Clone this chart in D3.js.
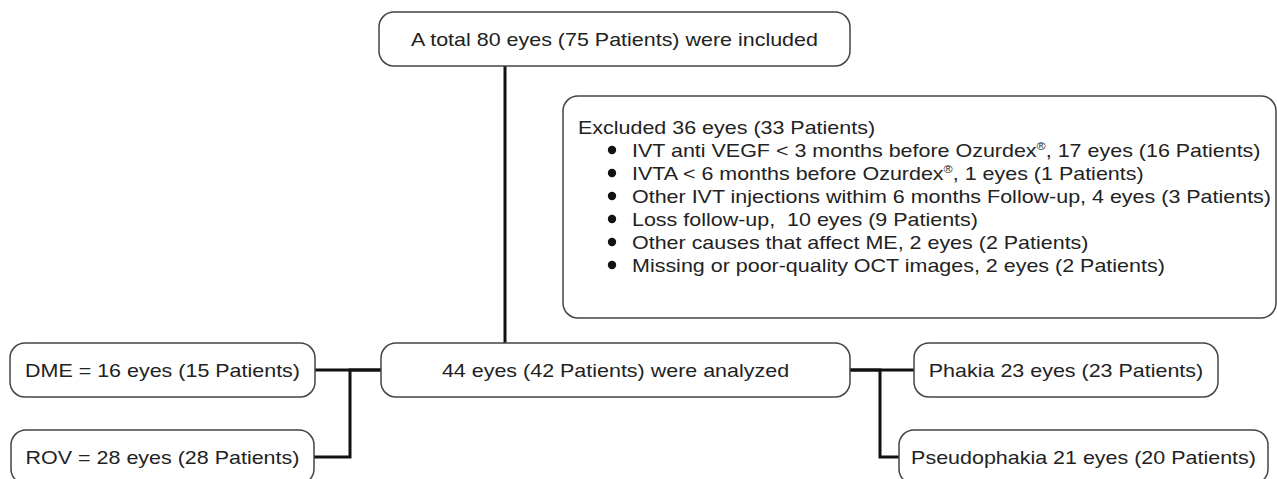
<!DOCTYPE html>
<html>
<head>
<meta charset="utf-8">
<script src="https://cdn.jsdelivr.net/npm/d3@7"></script>
<style>
body { margin: 0; background: #fff; }
text { font-family: "Liberation Sans", Arial, sans-serif; fill: #222; white-space: pre; }
</style>
</head>
<body>
<div id="canvas-container"></div>
<script>
// boxes of the flow, with eyes / patients counts
var nodeNames = ["total", "analyzed", "dme", "rov", "phakia", "pseudo"];
var nodePrefix = ["A total ", "", "DME = ", "ROV = ", "Phakia ", "Pseudophakia "];
var nodeSuffix = [" were included", " were analyzed", "", "", "", ""];
var nodeEyes = [80, 44, 16, 28, 23, 21];
var nodePatients = [75, 42, 15, 28, 23, 20];

// excluded list
var excludedEyesTotal = 36;
var excludedPatientsTotal = 33;
var excludedReasons = [
    "IVT anti VEGF < 3 months before Ozurdex®",
    "IVTA < 6 months before Ozurdex®",
    "Other IVT injections withim 6 months Follow-up",
    "Loss follow-up",
    "Other causes that affect ME",
    "Missing or poor-quality OCT images"
];
var excludedSep = [", ", ", ", ", ", ",  ", ", ", ", "];
var excludedEyes = [17, 1, 4, 10, 2, 2];
var excludedPatients = [16, 1, 3, 9, 2, 2];

// edges: parent -> child
var edgeFrom = ["total", "analyzed", "analyzed", "analyzed", "analyzed"];
var edgeTo = ["analyzed", "dme", "rov", "phakia", "pseudo"];

drawFlow();

function drawFlow() {
    var w = 1277, h = 479;
    var fs = 19;      // font size
    var sx = 1.13;    // the figure text is a bit wide
    var boxh = 54;

    // layout (left/right of every box and its row)
    var boxRow = ["top", "mid", "mid", "low", "mid", "low"];
    var boxX0 = [379, 381, 10, 11, 914, 899];
    var boxX1 = [850, 850, 315, 314, 1218, 1268];
    var rowY = d3.scaleOrdinal().domain(["top", "mid", "low"]).range([39, 370, 457]);

    var svg = d3.select("#canvas-container").append("svg")
        .attr("width", w)
        .attr("height", h)
        .attr("class", "main");

    function box(i) {
        var k = nodeNames.indexOf(i);
        return {x0: boxX0[k], x1: boxX1[k], y: rowY(boxRow[k]), cx: (boxX0[k] + boxX1[k]) / 2};
    }

    function label(x, y, str, anchor) {
        var t = svg.append("g")
            .attr("transform", "translate(" + x + "," + y + ") scale(" + sx + ",1)")
            .append("text")
            .attr("text-anchor", anchor)
            .attr("dy", "0.35em")
            .style("font-size", fs + "px");
        var parts = str.split("®");
        for (var i = 0; i < parts.length; i++) {
            var tp = t.append("tspan").text(parts[i]);
            if (i > 0) tp.attr("dy", 7);
            if (i < parts.length - 1) {
                t.append("tspan").attr("dy", -7).style("font-size", "11px").text("®");
            }
        }
    }

    function cable(pts) {
        svg.append("path")
            .attr("d", d3.line()(pts))
            .attr("fill", "none")
            .attr("stroke", "#111")
            .attr("stroke-width", 3);
    }

    // connectors
    var trunk = box("total");
    var mid = box("analyzed");
    var stemX = 505;
    cable([[stemX, trunk.y + boxh / 2], [stemX, mid.y - boxh / 2]]);
    var leftX = 350, rightX = 880;
    for (var e = 1; e < edgeFrom.length; e++) {
        var c = box(edgeTo[e]);
        if (c.x1 < mid.x0) {
            cable([[mid.x0, mid.y], [leftX, mid.y], [leftX, c.y], [c.x1, c.y]]);
        } else {
            cable([[mid.x1, mid.y], [rightX, mid.y], [rightX, c.y], [c.x0, c.y]]);
        }
    }

    // boxes
    for (var j = 0; j < nodeNames.length; j++) {
        var b = box(nodeNames[j]);
        svg.append("rect")
            .attr("x", b.x0)
            .attr("y", b.y - boxh / 2)
            .attr("width", b.x1 - b.x0)
            .attr("height", boxh)
            .attr("rx", 15)
            .attr("ry", 15)
            .attr("fill", "#fff")
            .attr("stroke", "#444")
            .attr("stroke-width", 1.5);
        label(b.cx, b.y, nodePrefix[j] + nodeEyes[j] + " eyes (" + nodePatients[j] + " Patients)" + nodeSuffix[j], "middle");
    }

    // excluded box
    var ex0 = 563, ex1 = 1276, ey0 = 96, ey1 = 318;
    svg.append("rect")
        .attr("x", ex0)
        .attr("y", ey0)
        .attr("width", ex1 - ex0)
        .attr("height", ey1 - ey0)
        .attr("rx", 15)
        .attr("ry", 15)
        .attr("fill", "#fff")
        .attr("stroke", "#444")
        .attr("stroke-width", 1.5);

    var lineY = d3.scaleLinear().domain([0, 1]).range([127, 150]);
    label(ex0 + 15, lineY(0), "Excluded " + excludedEyesTotal + " eyes (" + excludedPatientsTotal + " Patients)", "start");
    for (var r = 0; r < excludedReasons.length; r++) {
        var y = lineY(r + 1);
        svg.append("circle")
            .attr("cx", 612)
            .attr("cy", y)
            .attr("r", 4.2)
            .attr("fill", "#111");
        label(632, y, excludedReasons[r] + excludedSep[r] + excludedEyes[r] + " eyes (" + excludedPatients[r] + " Patients)", "start");
    }
}
</script>
</body>
</html>
